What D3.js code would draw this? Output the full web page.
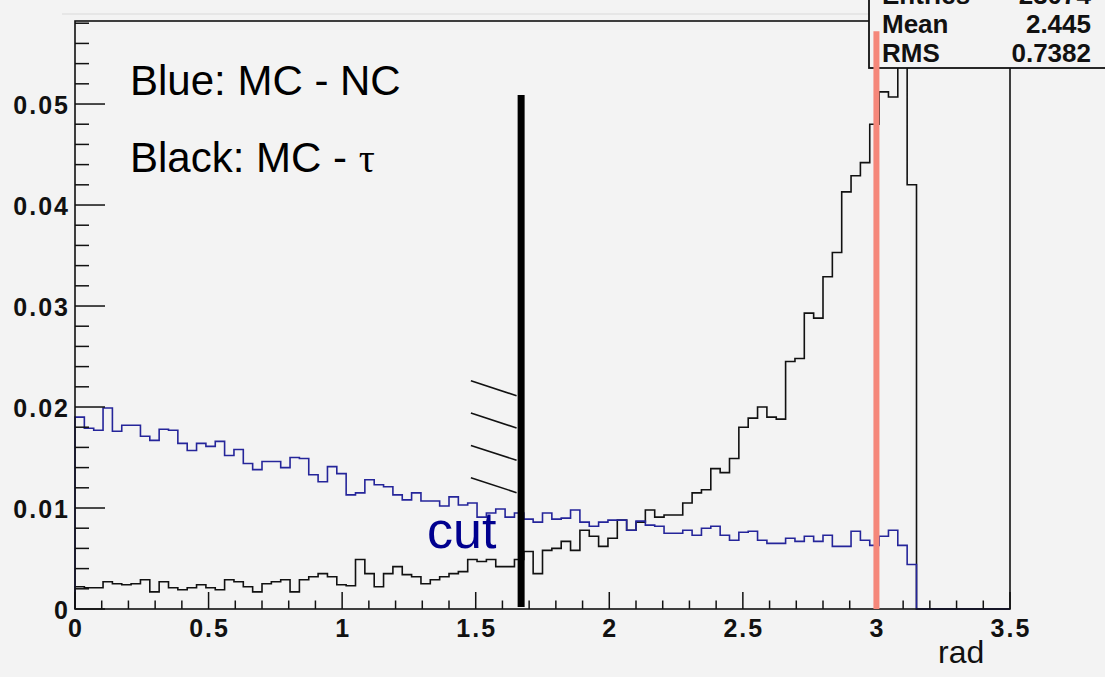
<!DOCTYPE html>
<html>
<head>
<meta charset="utf-8">
<script src="https://cdn.jsdelivr.net/npm/d3@7"></script>
<style>
  html, body { margin: 0; padding: 0; background: #f3f3f3; }
  svg { display: block; }
  text { font-family: "Liberation Sans", Arial, Helvetica, sans-serif; }
</style>
</head>
<body>
<svg id="chart" width="1105" height="677"></svg>
<script>
// Histogram binning: 100 bins of width 0.035 rad on [0, 3.5]
const nBins = 100;
const binWidth = 0.035;

// MC - NC (blue), normalised bin contents
const ncValues = [
  0.0190, 0.0179, 0.0177, 0.0199, 0.0176, 0.0182, 0.0182, 0.0171, 0.0167, 0.0178,
  0.0177, 0.0164, 0.0157, 0.0164, 0.0161, 0.0166, 0.0152, 0.0158, 0.0144, 0.0138,
  0.0146, 0.0146, 0.0140, 0.0150, 0.0149, 0.0133, 0.0126, 0.0141, 0.0134, 0.0113,
  0.0115, 0.0128, 0.0123, 0.0121, 0.0113, 0.0108, 0.0115, 0.0107, 0.0107, 0.0102,
  0.0111, 0.0103, 0.0105, 0.0091, 0.0095, 0.0099, 0.0091, 0.0095, 0.0089, 0.0086,
  0.0095, 0.0089, 0.0090, 0.0098, 0.0086, 0.0082, 0.0086, 0.0088, 0.0088, 0.0078,
  0.0087, 0.0083, 0.0082, 0.0075, 0.0075, 0.0078, 0.0073, 0.0080, 0.0082, 0.0073,
  0.0068, 0.0076, 0.0077, 0.0068, 0.0065, 0.0065, 0.0070, 0.0067, 0.0072, 0.0067,
  0.0073, 0.0062, 0.0062, 0.0077, 0.0068, 0.0063, 0.0072, 0.0078, 0.0063, 0.0044,
  0, 0, 0, 0, 0, 0, 0, 0, 0, 0
];

// MC - tau (black), normalised bin contents
const tauValues = [
  0.0022, 0.0021, 0.0021, 0.0027, 0.0025, 0.0024, 0.0025, 0.0029, 0.0017, 0.0027,
  0.0021, 0.0019, 0.0021, 0.0024, 0.0021, 0.0019, 0.0029, 0.0027, 0.0022, 0.0017,
  0.0025, 0.0027, 0.0029, 0.0017, 0.0029, 0.0032, 0.0035, 0.0032, 0.0024, 0.0023,
  0.0049, 0.0035, 0.0022, 0.0035, 0.0042, 0.0034, 0.0032, 0.0025, 0.0029, 0.0032,
  0.0035, 0.0037, 0.0049, 0.0047, 0.0049, 0.0042, 0.0042, 0.0049, 0.0057, 0.0035,
  0.0058, 0.0060, 0.0067, 0.0058, 0.0078, 0.0072, 0.0062, 0.0070, 0.0088, 0.0078,
  0.0086, 0.0098, 0.0091, 0.0093, 0.0093, 0.0105, 0.0115, 0.0118, 0.0139, 0.0135,
  0.0149, 0.0180, 0.0189, 0.0200, 0.0190, 0.0188, 0.0245, 0.0248, 0.0293, 0.0288,
  0.0329, 0.0353, 0.0413, 0.0429, 0.0442, 0.0480, 0.0512, 0.0507, 0.0553, 0.0420,
  0, 0, 0, 0, 0, 0, 0, 0, 0, 0
];

// Axis ticks and labels
const xMajorTicks = [0, 0.5, 1, 1.5, 2, 2.5, 3, 3.5];
const xTickLabels = ["0", "0.5", "1", "1.5", "2", "2.5", "3", "3.5"];
const yMajorTicks = [0, 0.01, 0.02, 0.03, 0.04, 0.05];
const yTickLabels = ["0", "0.01", "0.02", "0.03", "0.04", "0.05"];

// Statistics box entries (tau histogram)
const statNames = ["Entries", "Mean", "RMS"];
const statValues = ["23074", "2.445", "0.7382"];

// Annotations
const cutValue = 1.67;          // selection cut (rad)
const cutTop = 0.0509;
const refValue = 3.0;           // reference line (rad)
const refTop = 0.0572;
const hatchStarts = [0.0226, 0.0194, 0.0162, 0.0130];
const hatchDrop = 0.00148;
const hatchX = [1.482, 1.653];

const svg = d3.select("#chart");

const x = d3.scaleLinear().domain([0, 3.5]).range([75, 1010]);
const y = d3.scaleLinear().domain([0, 0.05822]).range([609, 21]);

// faint pad edge above the frame
svg.append("line")
  .attr("x1", 62).attr("x2", 870).attr("y1", 14).attr("y2", 14)
  .attr("stroke", "#e2e2e2").attr("stroke-width", 1.5);

// histogram outlines
function stepPoints(values) {
  const pts = [[0, 0]];
  values.forEach((v, i) => pts.push([i * binWidth, v]));
  pts.push([nBins * binWidth, values[values.length - 1]]);
  return pts;
}
const step = d3.line()
  .x(d => x(d[0]))
  .y(d => y(d[1]))
  .curve(d3.curveStepAfter);

svg.append("path")
  .attr("d", step(stepPoints(tauValues)))
  .attr("fill", "none")
  .attr("stroke", "#111111")
  .attr("stroke-width", 1.6);

svg.append("path")
  .attr("d", step(stepPoints(ncValues)))
  .attr("fill", "none")
  .attr("stroke", "#25259a")
  .attr("stroke-width", 1.6);

// frame
svg.append("rect")
  .attr("x", x(0)).attr("y", y.range()[1])
  .attr("width", x(3.5) - x(0)).attr("height", y(0) - y.range()[1])
  .attr("fill", "none").attr("stroke", "#111").attr("stroke-width", 1.6);

// x axis ticks
const xMinor = d3.range(0, 36).map(i => i * 0.1).filter(v => Math.abs(v * 2 - Math.round(v * 2)) > 1e-6);
svg.append("g").selectAll("line").data(xMinor).join("line")
  .attr("x1", d => x(d)).attr("x2", d => x(d))
  .attr("y1", y(0)).attr("y2", y(0) - 8.5)
  .attr("stroke", "#111").attr("stroke-width", 1.5);
svg.append("g").selectAll("line").data(xMajorTicks).join("line")
  .attr("x1", d => x(d)).attr("x2", d => x(d))
  .attr("y1", y(0)).attr("y2", y(0) - 17)
  .attr("stroke", "#111").attr("stroke-width", 1.5);
svg.append("g").selectAll("text").data(xMajorTicks).join("text")
  .attr("x", d => x(d) + 1)
  .attr("y", 637)
  .attr("text-anchor", "middle")
  .attr("font-size", 25).attr("font-weight", "bold")
  .attr("letter-spacing", 2)
  .attr("fill", "#111")
  .text((d, i) => xTickLabels[i]);

// y axis ticks
const yMinor = d3.range(0, 30).map(i => i * 0.002).filter(v => v <= 0.0582 && Math.abs(v * 100 - Math.round(v * 100)) > 1e-6);
svg.append("g").selectAll("line").data(yMinor).join("line")
  .attr("x1", x(0)).attr("x2", x(0) + 14)
  .attr("y1", d => y(d)).attr("y2", d => y(d))
  .attr("stroke", "#111").attr("stroke-width", 1.5);
svg.append("g").selectAll("line").data(yMajorTicks).join("line")
  .attr("x1", x(0)).attr("x2", x(0) + 30)
  .attr("y1", d => y(d)).attr("y2", d => y(d))
  .attr("stroke", "#111").attr("stroke-width", 1.5);
svg.append("g").selectAll("text").data(yMajorTicks).join("text")
  .attr("x", 70)
  .attr("y", d => y(d) + 9.5)
  .attr("text-anchor", "end")
  .attr("font-size", 25).attr("font-weight", "bold")
  .attr("letter-spacing", 2)
  .attr("fill", "#111")
  .text((d, i) => yTickLabels[i]);

// axis title
svg.append("text")
  .attr("x", 938).attr("y", 663)
  .attr("font-size", 32).attr("fill", "#111")
  .text("rad");

// statistics box
const stats = svg.append("g");
stats.append("rect")
  .attr("x", 869).attr("y", -40).attr("width", 250).attr("height", 108)
  .attr("fill", "#f3f3f3").attr("stroke", "#111").attr("stroke-width", 1.8);
statNames.forEach((name, i) => {
  const base = 4 + i * 29;
  stats.append("text")
    .attr("x", 882).attr("y", base)
    .attr("font-size", 26).attr("font-weight", "bold").attr("fill", "#111")
    .text(name);
  stats.append("text")
    .attr("x", 1091).attr("y", base)
    .attr("text-anchor", "end")
    .attr("font-size", 26).attr("font-weight", "bold").attr("fill", "#111")
    .text(statValues[i]);
});

// legend text
svg.append("text")
  .attr("x", 130).attr("y", 95)
  .attr("font-size", 42).attr("fill", "#000")
  .text("Blue: MC - NC");
const blackLabel = svg.append("text")
  .attr("x", 130).attr("y", 172)
  .attr("font-size", 42).attr("fill", "#000");
blackLabel.append("tspan").text("Black: MC - ");
blackLabel.append("tspan")
  .attr("font-family", "'Liberation Serif', 'Times New Roman', serif")
  .attr("font-size", 40)
  .text("τ");

// reference line at 3 rad
svg.append("line")
  .attr("x1", x(refValue)).attr("x2", x(refValue))
  .attr("y1", y(0)).attr("y2", y(refTop))
  .attr("stroke", "#f5877a").attr("stroke-width", 6);

// cut line with hatching
svg.append("line")
  .attr("x1", x(cutValue)).attr("x2", x(cutValue))
  .attr("y1", y(0.0002)).attr("y2", y(cutTop))
  .attr("stroke", "#000").attr("stroke-width", 7);
svg.append("g").selectAll("line").data(hatchStarts).join("line")
  .attr("x1", x(hatchX[0])).attr("x2", x(hatchX[1]))
  .attr("y1", d => y(d)).attr("y2", d => y(d - hatchDrop))
  .attr("stroke", "#111").attr("stroke-width", 1.6);

svg.append("text")
  .attr("x", 427).attr("y", 548)
  .attr("font-size", 52).attr("fill", "#00008f")
  .text("cut");
</script>
</body>
</html>
